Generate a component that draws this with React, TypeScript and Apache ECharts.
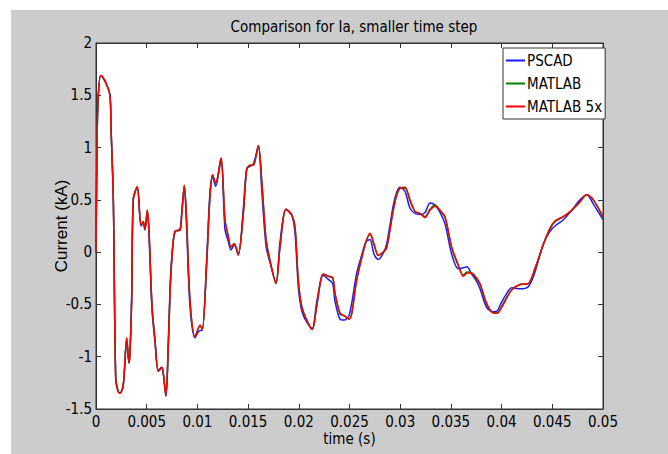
import React, { useEffect, useRef } from "react";
import * as echarts from "echarts";

const time = [
  0, 0.0001, 0.0002, 0.00046, 0.00069, 0.00106, 0.00138, 0.00148, 0.00171, 0.00194,
  0.00217, 0.00237, 0.00269, 0.00303, 0.00325, 0.00335, 0.00352, 0.00368, 0.00407, 0.00444,
  0.00466, 0.00483, 0.00506, 0.00523, 0.00552, 0.00582, 0.00614, 0.00648, 0.00664, 0.0069,
  0.0071, 0.0073, 0.00747, 0.00779, 0.00828, 0.00845, 0.00871, 0.00894, 0.00927, 0.00976,
  0.01026, 0.01048, 0.01092, 0.01124, 0.0115, 0.0118, 0.01233, 0.01272, 0.01305, 0.01331,
  0.01364, 0.01403, 0.01453, 0.01486, 0.01519, 0.01551, 0.01601, 0.01634, 0.01677, 0.01716,
  0.01775, 0.01815, 0.01874, 0.0193, 0.01963, 0.01995, 0.02029, 0.02078, 0.02133, 0.02176,
  0.02242, 0.02291, 0.02334, 0.02357, 0.02406, 0.02449, 0.02498, 0.02571, 0.0262, 0.02663,
  0.02702, 0.02742, 0.02784, 0.02833, 0.02867, 0.02932, 0.02968, 0.02998, 0.03047, 0.03097,
  0.03146, 0.03195, 0.03245, 0.03294, 0.03343, 0.03393, 0.03442, 0.03508, 0.03573, 0.03622,
  0.03659, 0.03705, 0.03748, 0.03787, 0.03853, 0.03915, 0.03958, 0.03994, 0.04034, 0.041,
  0.04181, 0.04263, 0.04329, 0.04411, 0.04477, 0.04527, 0.04609, 0.04691, 0.04773, 0.04839,
  0.04905, 0.05,
];

const matlab5x = [
  0.0, 1.0, 1.45, 1.69, 1.67, 1.6, 1.5, 1.2, 0.5, -1.2,
  -1.33, -1.35, -1.27, -0.82, -1.06, -0.97, -0.46, 0.5, 0.625, 0.26,
  0.29, 0.22, 0.4, 0.2, -0.5, -0.84, -1.13, -1.1, -1.16, -1.37,
  -1.0, -0.4, -0.08, 0.2, 0.21, 0.35, 0.64, 0.3, -0.46, -0.81,
  -0.7, -0.74, -0.1, 0.53, 0.74, 0.66, 0.9, 0.31, 0.15, 0.05,
  0.08, -0.02, 0.37, 0.79, 0.83, 0.83, 1.02, 0.69, 0.12, -0.08,
  -0.3, 0.05, 0.41, 0.355, 0.24, -0.27, -0.52, -0.65, -0.74, -0.52,
  -0.21, -0.23, -0.24, -0.39, -0.58, -0.61, -0.64, -0.27, -0.06, 0.1,
  0.18, 0.08, -0.03, 0.0, 0.04, 0.4, 0.55, 0.61, 0.62, 0.5,
  0.39, 0.37, 0.33, 0.4, 0.44, 0.4, 0.34, 0.05, -0.12, -0.23,
  -0.2, -0.2, -0.24, -0.3, -0.49, -0.58, -0.585, -0.54, -0.47, -0.36,
  -0.31, -0.3, -0.155, 0.07, 0.23, 0.3, 0.34, 0.4, 0.48, 0.55,
  0.5, 0.34,
];

const matlab = [
  0.0, 1.0, 1.45, 1.69, 1.67, 1.6, 1.5, 1.2, 0.5, -1.2,
  -1.33, -1.35, -1.27, -0.82, -1.06, -0.97, -0.46, 0.5, 0.625, 0.26,
  0.29, 0.22, 0.4, 0.2, -0.5, -0.84, -1.13, -1.1, -1.16, -1.37,
  -1.0, -0.4, -0.08, 0.2, 0.21, 0.35, 0.64, 0.3, -0.46, -0.81,
  -0.7, -0.74, -0.1, 0.53, 0.74, 0.66, 0.9, 0.31, 0.15, 0.05,
  0.08, -0.02, 0.37, 0.79, 0.83, 0.83, 1.02, 0.69, 0.12, -0.08,
  -0.3, 0.05, 0.41, 0.355, 0.24, -0.27, -0.52, -0.65, -0.74, -0.52,
  -0.21, -0.23, -0.25, -0.4, -0.59, -0.61, -0.64, -0.26, -0.05, 0.1,
  0.17, 0.07, -0.03, 0.0, 0.05, 0.41, 0.56, 0.61, 0.61, 0.49,
  0.39, 0.37, 0.34, 0.41, 0.45, 0.4, 0.33, 0.04, -0.13, -0.22,
  -0.19, -0.2, -0.25, -0.31, -0.5, -0.58, -0.58, -0.53, -0.46, -0.36,
  -0.31, -0.3, -0.16, 0.07, 0.22, 0.29, 0.34, 0.4, 0.48, 0.55,
  0.5, 0.33,
];

const pscad = [
  0.0, 1.0, 1.45, 1.69, 1.67, 1.6, 1.5, 1.2, 0.5, -1.2,
  -1.33, -1.35, -1.27, -0.84, -1.06, -0.97, -0.4, 0.52, 0.62, 0.25,
  0.28, 0.21, 0.39, 0.15, -0.55, -0.86, -1.14, -1.11, -1.17, -1.38,
  -0.95, -0.35, -0.05, 0.2, 0.22, 0.38, 0.62, 0.22, -0.52, -0.82,
  -0.75, -0.75, -0.05, 0.57, 0.72, 0.63, 0.88, 0.22, 0.1, 0.02,
  0.07, -0.03, 0.42, 0.8, 0.82, 0.84, 1.01, 0.6, 0.06, -0.1,
  -0.29, 0.1, 0.41, 0.36, 0.18, -0.33, -0.56, -0.67, -0.73, -0.48,
  -0.22, -0.26, -0.3, -0.47, -0.64, -0.65, -0.6, -0.2, -0.03, 0.1,
  0.12, -0.02, -0.07, -0.01, 0.08, 0.45, 0.58, 0.62, 0.58, 0.42,
  0.37, 0.36, 0.38, 0.47, 0.45, 0.38, 0.27, -0.02, -0.16, -0.15,
  -0.14, -0.21, -0.27, -0.35, -0.53, -0.57, -0.56, -0.49, -0.42, -0.34,
  -0.35, -0.33, -0.19, 0.08, 0.2, 0.25, 0.31, 0.4, 0.5, 0.55,
  0.46, 0.31,
];

const seriesNames = ["PSCAD", "MATLAB", "MATLAB 5x"];
const seriesColors = ["#1a1aff", "#008000", "#ff0000"];

const narrow = "'DejaVu Sans Condensed', 'Liberation Sans Narrow', 'Liberation Sans', Arial, sans-serif";
const regular = "'Liberation Sans', Arial, sans-serif";

function pairs(vals: number[]) {
  return time.map((t, i) => [t, vals[i]]);
}

function fmtX(v: number) {
  return String(parseFloat(v.toFixed(4)));
}
function fmtY(v: number) {
  return String(parseFloat(v.toFixed(2)));
}

export default function App() {
  const ref = useRef<HTMLDivElement>(null);
  useEffect(() => {
    if (!ref.current) return;
    const chart = echarts.init(ref.current, undefined, { renderer: "svg" });
    const axisLine = { show: true, onZero: false, lineStyle: { color: "#333333", width: 1 } };
    const tick = { show: true, inside: true, length: 5, lineStyle: { color: "#333333", width: 1 } };
    const datasets = [pscad, matlab, matlab5x];
    chart.setOption({
      animation: false,
      backgroundColor: "#cccccc",
      title: {
        text: "Comparison for Ia, smaller time step",
        left: 338,
        top: 4,
        textAlign: "center",
        textStyle: { fontFamily: narrow, fontSize: 15, fontWeight: "normal", color: "#000" },
      },
      grid: {
        left: 85,
        top: 33,
        right: 65,
        bottom: 45,
        show: true,
        backgroundColor: "#ffffff",
        borderColor: "#333333",
        borderWidth: 1,
      },
      legend: {
        orient: "vertical",
        left: 492,
        top: 38,
        data: seriesNames,
        icon: "rect",
        itemWidth: 19,
        itemHeight: 2,
        itemGap: 8,
        padding: [5, 3, 5, 3],
        backgroundColor: "#ffffff",
        borderColor: "#333333",
        borderWidth: 1,
        borderRadius: 0,
        textStyle: { fontFamily: narrow, fontSize: 15, color: "#000", padding: [0, 0, 0, -3] },
      },
      xAxis: [
        {
          type: "value",
          min: 0,
          max: 0.05,
          interval: 0.005,
          position: "bottom",
          axisLine,
          axisTick: tick,
          splitLine: { show: false },
          axisLabel: {
            formatter: fmtX,
            fontFamily: narrow,
            fontSize: 15,
            color: "#000",
            margin: 5,
          },
          name: "time (s)",
          nameLocation: "middle",
          nameGap: 22,
          nameMoveOverlap: false,
          nameTextStyle: { fontFamily: narrow, fontSize: 15, color: "#000", verticalAlign: "top" },
        },
        {
          type: "value",
          min: 0,
          max: 0.05,
          interval: 0.005,
          position: "top",
          axisLine,
          axisTick: tick,
          splitLine: { show: false },
          axisLabel: { show: false },
        },
      ],
      yAxis: [
        {
          type: "value",
          min: -1.5,
          max: 2,
          interval: 0.5,
          position: "left",
          axisLine,
          axisTick: tick,
          splitLine: { show: false },
          axisLabel: {
            formatter: fmtY,
            fontFamily: narrow,
            fontSize: 15,
            color: "#000",
            margin: 4,
          },
          name: "Current (kA)",
          nameLocation: "middle",
          nameGap: 26,
          nameMoveOverlap: false,
          nameTextStyle: { fontFamily: regular, fontSize: 17, color: "#000" },
        },
        {
          type: "value",
          min: -1.5,
          max: 2,
          interval: 0.5,
          position: "right",
          axisLine,
          axisTick: tick,
          splitLine: { show: false },
          axisLabel: { show: false },
        },
      ],
      series: datasets.map((d, i) => ({
        name: seriesNames[i],
        type: "line",
        xAxisIndex: 0,
        yAxisIndex: 0,
        data: pairs(d),
        showSymbol: false,
        smooth: 0.3,
        color: seriesColors[i],
        lineStyle: { width: 1.5, color: seriesColors[i] },
        z: 2 + i,
      })),
    });
    return () => chart.dispose();
  }, []);
  return (
    <div style={{ position: "absolute", left: 0, top: 0, width: 668, height: 454, background: "#ffffff" }}>
      <div ref={ref} style={{ position: "absolute", left: 11, top: 10, width: 657, height: 444 }} />
    </div>
  );
}
